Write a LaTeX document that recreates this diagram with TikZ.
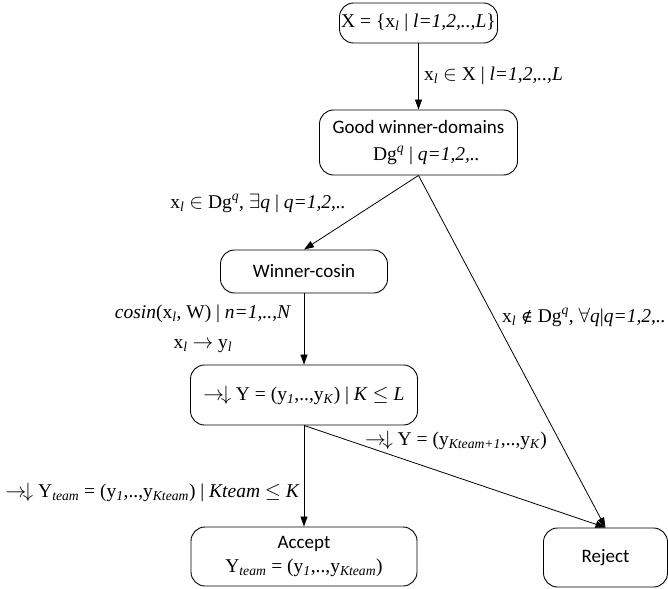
\documentclass[tikz,border=0pt]{standalone}
\usepackage{fontspec}
\setmainfont{Liberation Serif}
\setsansfont{Carlito}
\newfontfamily\symserif{DejaVu Serif}
\usetikzlibrary{arrows.meta}
\newcommand{\sub}[1]{\textsubscript{\textit{#1}}}
\newcommand{\sups}[1]{\textsuperscript{\textit{#1}}}

\begin{document}
\begin{tikzpicture}[x=1pt,y=-1pt,
  font=\fontsize{19.5}{22}\selectfont,
  box/.style={draw,rounded corners=14pt,line width=0.9pt,inner sep=0pt,align=center},
  head/.style={font=\fontsize{19}{22}\selectfont\sffamily},
  arr/.style={-{Triangle[length=10pt,width=7pt]},line width=0.8pt},
  lbl/.style={inner sep=0pt}]
\useasboundingbox (0,0) rectangle (668,588);

% boxes
\node[box,minimum width=158pt,minimum height=40pt] (set) at (418.5,23)
  {X = \{x\sub{l} | \textit{l=1,2,..,L}\}};
\node[box,minimum width=198pt,minimum height=65pt] (good) at (418.5,142.5)
  {{\sffamily\fontsize{19}{22}\selectfont Good winner-domains}\\[5pt]
   \hspace*{16pt}Dg\sups{q} | \textit{q=1,2,..}};
\node[box,head,minimum width=167pt,minimum height=43pt] (cosin) at (304,271.5)
  {Winner-cosin};
\node[box,minimum width=227pt,minimum height=60pt] (rank) at (304,395)
  {$\rightarrow\!\downarrow$ Y = (y\sub{1},..,y\sub{K}) | \textit{K} $\leq$ \textit{L}};
\node[box,minimum width=226pt,minimum height=59pt] (accept) at (304,556.5)
  {{\sffamily\fontsize{19}{22}\selectfont Accept}\\[2pt]
   Y\sub{team} = (y\sub{1},..,y\sub{Kteam})};
\node[box,head,minimum width=124pt,minimum height=59pt] (reject) at (605.5,557.5)
  {Reject};

% connectors
\draw[arr] (set) -- (good);
\draw[arr] (good.south) -- (cosin.north);
\draw[arr] (good.south) -- (reject.north);
\draw[arr] (cosin) -- (rank);
\draw[arr] (rank) -- (accept);
\draw[arr] (rank.south) -- (reject.north);

% labels
\node[lbl,anchor=west] (lblin) at (424,76)
  {x\sub{l} $\in$ X | \textit{l=1,2,..,L}};
\node[lbl,anchor=east] (lbldom) at (346,203)
  {x\sub{l} $\in$ Dg\sups{q}, $\exists$\textit{q} | \textit{q=1,2,..}};
\node[lbl,align=center] (lblcos) at (203,329)
  {\textit{cosin}(x\sub{l}, W) | \textit{n=1,..,N}\\[8pt]
   x\sub{l} $\rightarrow$ y\sub{l}};
\node[lbl,anchor=east] (lblout) at (666,317)
  {x\sub{l} {\symserif\fontsize{16}{20}\selectfont ∉} Dg\sups{q}, $\forall$\textit{q}|\textit{q=1,2,..}};
\node[lbl,anchor=west] (lblrej) at (365,440)
  {$\rightarrow\!\downarrow$ Y = (y\sub{Kteam+1},..,y\sub{K})};
\node[lbl,anchor=east] (lblteam) at (300,492)
  {$\rightarrow\!\downarrow$ Y\sub{team} = (y\sub{1},..,y\sub{Kteam}) | \textit{Kteam} $\leq$ \textit{K}};
\end{tikzpicture}
\end{document}
